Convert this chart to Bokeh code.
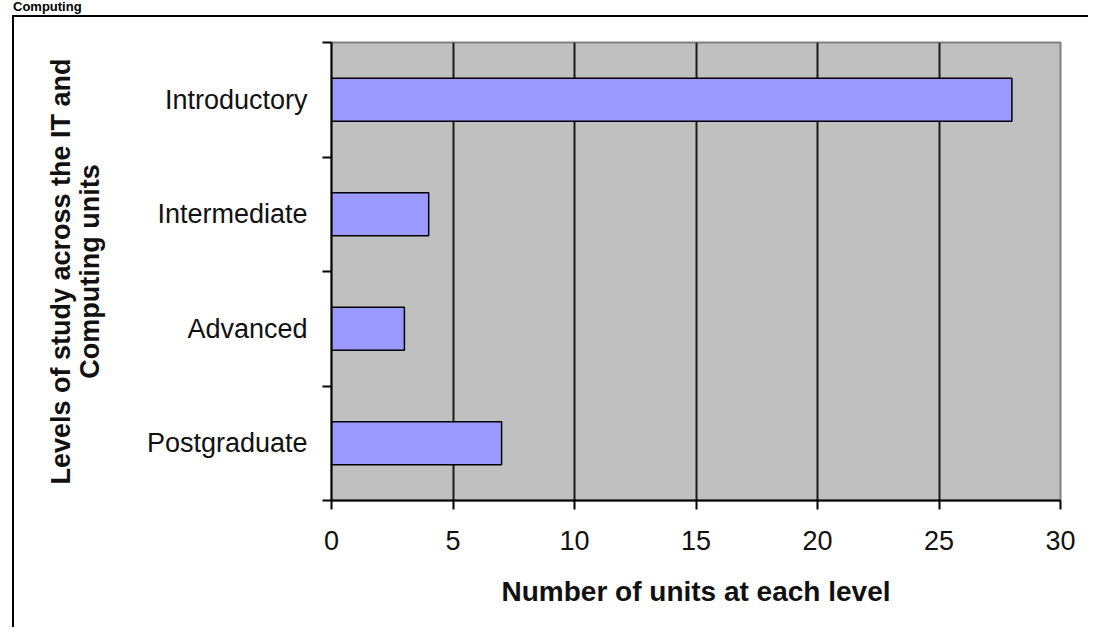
from bokeh.plotting import figure
from bokeh.layouts import column
from bokeh.models import Range1d, FixedTicker, Div
from bokeh.embed import file_html
from bokeh.resources import INLINE

# ---- data ----
categories = ["Introductory", "Intermediate", "Advanced", "Postgraduate"]
units = [28, 4, 3, 7]
x_ticks = [0, 5, 10, 15, 20, 25, 30]

title_text = "Computing"
x_title = "Number of units at each level"
y_title = "Levels of study across the IT and\nComputing units"

# ---- layout constants (pixels, picture coordinates) ----
TITLE_H = 15                 # strip above the chart-area frame
OX, OY = 14, TITLE_H + 2     # where the figure canvas starts
W, H = 1090 - OX, 629 - OY
FL, FR, FT, FB = 331 - OX, 1060 - OX, 42 - OY, 500 - OY   # frame edges in canvas
XMAX = 30
n = len(categories)

ypos = [n - i - 0.5 for i in range(n)]

p = figure(width=W, height=H, x_range=Range1d(0, XMAX), y_range=Range1d(0, n),
           output_backend="svg", toolbar_location=None,
           min_border_left=FL, min_border_right=W - FR,
           min_border_top=FT, min_border_bottom=H - FB)
p.styles = {"margin-left": "12px", "margin-top": "-10px",
            "border-left": "2px solid black", "border-top": "2px solid black"}
p.background_fill_color = "#C0C0C0"
p.border_fill_color = "white"
p.outline_line_color = "#808080"
p.outline_line_width = 2

p.hbar(y=ypos, left=0, right=units, height=0.375,
       fill_color="#9999FF", line_color="black", line_width=1.5)

# x axis
p.xaxis.ticker = FixedTicker(ticks=x_ticks)
p.xgrid.ticker = FixedTicker(ticks=x_ticks[1:-1])
p.xgrid.grid_line_color = "#1a1a1a"
p.xgrid.grid_line_width = 2
p.ygrid.visible = False
for ax in (p.xaxis, p.yaxis):
    ax.axis_line_color = "black"
    ax.axis_line_width = 2
    ax.major_label_text_font = "Liberation Sans"
    ax.major_label_text_font_size = "27px"
    ax.major_label_text_color = "#111111"
    ax.axis_label_text_font = "Liberation Sans"
    ax.axis_label_text_font_size = "28px"
    ax.axis_label_text_font_style = "bold"
    ax.axis_label_text_color = "#111111"
p.xaxis.major_tick_out = 9
p.xaxis.major_tick_in = 0
p.xaxis.major_tick_line_color = "black"
p.xaxis.major_tick_line_width = 2
p.xaxis.minor_tick_line_color = None
p.xaxis.major_label_standoff = 21
p.xaxis.axis_label = x_title
p.xaxis.axis_label_standoff = 23

# y axis: labels at category centres, ticks at boundaries
p.yaxis.ticker = FixedTicker(ticks=ypos, minor_ticks=list(range(n + 1)))
p.yaxis.major_label_overrides = {y: c for y, c in zip(ypos, categories)}
p.yaxis.major_tick_out = 0
p.yaxis.major_tick_in = 0
p.yaxis.major_tick_line_color = None
p.yaxis.minor_tick_out = 9
p.yaxis.minor_tick_in = 0
p.yaxis.minor_tick_line_color = "black"
p.yaxis.minor_tick_line_width = 2
p.yaxis.major_label_standoff = 15
p.yaxis.axis_label = y_title
p.yaxis.axis_label_standoff = 39
p.yaxis.axis_label_text_font_size = "27px"
p.yaxis.axis_label_text_line_height = 0.95

# chart title strip (shrunk to fit above the chart-area frame)
title = Div(text=title_text, width=400, height=TITLE_H,
            styles={"font-family": "Liberation Sans, Arial, sans-serif",
                    "font-weight": "bold", "font-size": "13px",
                    "line-height": "13px", "padding-left": "8px",
                    "position": "relative", "top": "-5px",
                    "color": "black", "overflow": "visible"})

layout = column(title, p, spacing=0)
open("out.html", "w").write(file_html(layout, INLINE))
